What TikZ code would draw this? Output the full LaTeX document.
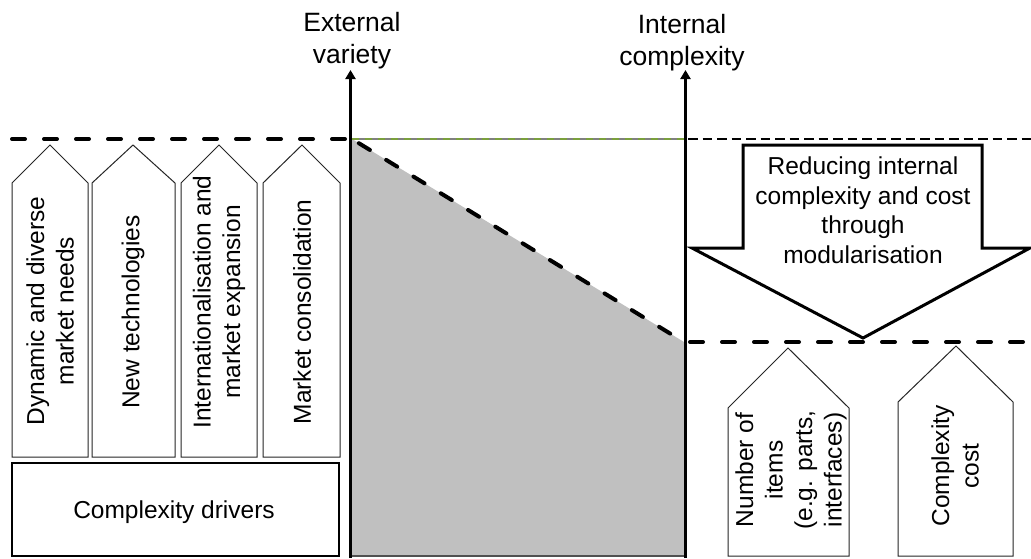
\documentclass[tikz,border=0pt]{standalone}
\usepackage{fontspec}
\setmainfont{Liberation Sans}
\usetikzlibrary{arrows.meta}

\definecolor{areagray}{RGB}{192,192,192}
\definecolor{levelgreen}{RGB}{122,160,60}
\definecolor{rimgray}{RGB}{80,80,80}

\tikzset{
  plate/.style={draw=black!85, line width=1pt, fill=white, line join=miter},
  axis/.style={line width=3.5pt, -{Triangle[length=9pt,width=10pt]}},
  level/.style={line width=4pt, line cap=round, dash pattern=on 13pt off 19pt},
  thinlevel/.style={line width=1.8pt, dash pattern=on 9.5pt off 5pt},
  txt/.style={font=\fontsize{24.5}{29.5}\selectfont, align=center, inner sep=0pt},
  axlabel/.style={font=\fontsize{26.5}{31.8}\selectfont, align=center, inner sep=0pt, anchor=north},
  bigarrow/.style={draw=black, line width=3pt, fill=white, line join=miter},
  framebox/.style={draw=black, line width=2.5pt, fill=white}
}

\begin{document}
\begin{tikzpicture}[x=1pt, y=-1pt]
  \useasboundingbox (0,0) rectangle (1031,558);

  % axis end points and level coordinates
  \coordinate (extBase) at (350.5,558);
  \coordinate (extTop)  at (350.5,70);
  \coordinate (intBase) at (685.5,558);
  \coordinate (intTop)  at (685.5,70);
  \coordinate (hiL) at (12,139);
  \coordinate (hiA) at (352,139);
  \coordinate (hiB) at (684,139);
  \coordinate (hiR) at (688,139);
  \coordinate (hiEnd) at (1031,139);
  \coordinate (loA) at (684,342);
  \coordinate (loR) at (690,342);
  \coordinate (loEnd) at (1031,342);

  % shaded variety area between the two axes
  \fill[areagray] (hiA) -- (loA) -- (684,556) -- (352,556) -- cycle;
  \draw[rimgray, line width=2pt] (352,556) -- (684,556);

  % high level line
  \draw[level] (hiL) -- (348,139);
  \draw[gray, line width=1.2pt] (hiA) -- (hiB);
  \draw[levelgreen, line width=2pt, dash pattern=on 7pt off 6pt] (hiA) -- (hiB);
  \draw[thinlevel] (hiR) -- (hiEnd);

  % falling complexity and low level line
  \draw[level, dash phase=24pt] (hiA) -- (loA);
  \draw[level] (loR) -- (loEnd);

  % axes
  \draw[axis] (extBase) -- (extTop);
  \draw[axis] (intBase) -- (intTop);
  \node[axlabel] (lblExt) at (352,12.5) {External\\variety};
  \node[axlabel] (lblInt) at (682,14) {Internal\\complexity};

  % complexity drivers
  \draw[plate] (12,457) -- (12,183) -- (50,145) -- (88,183) -- (88,457) -- cycle;
  \draw[plate] (92,457) -- (92,183) -- (133,145) -- (175,183) -- (175,457) -- cycle;
  \draw[plate] (181,457) -- (181,183) -- (219,145) -- (257,183) -- (257,457) -- cycle;
  \draw[plate] (263,457) -- (263,183) -- (302,145) -- (340,183) -- (340,457) -- cycle;
  \node[txt, rotate=90] (drv1) at (50,311) {Dynamic and diverse\\market needs};
  \node[txt, rotate=90] (drv2) at (133,312) {New technologies};
  \node[txt, rotate=90] (drv3) at (219,302) {Internationalisation and\\market expansion};
  \node[txt, rotate=90] (drv4) at (302,312) {Market consolidation};

  \draw[framebox] (12,463) rectangle (339,556);
  \node[txt] (drivers) at (174,512.5) {Complexity drivers};

  % modularisation arrow
  \draw[bigarrow] (743,145) -- (982,145) -- (982,248) -- (1030,248) -- (863,338)
    -- (692,248) -- (743,248) -- cycle;
  \node[txt, anchor=north] (reduce) at (863,157)
    {Reducing internal\\complexity and cost\\through\\modularisation};

  % internal complexity measures
  \draw[plate] (728,556) -- (728,408) -- (788,348) -- (849,408) -- (849,556) -- cycle;
  \draw[plate] (898,556) -- (898,402) -- (956,346) -- (1013,402) -- (1013,556) -- cycle;
  \node[txt, rotate=90] (items) at (791,470) {Number of\\items\\(e.g. parts,\\interfaces)};
  \node[txt, rotate=90] (cost) at (955,466) {Complexity\\cost};
\end{tikzpicture}
\end{document}
